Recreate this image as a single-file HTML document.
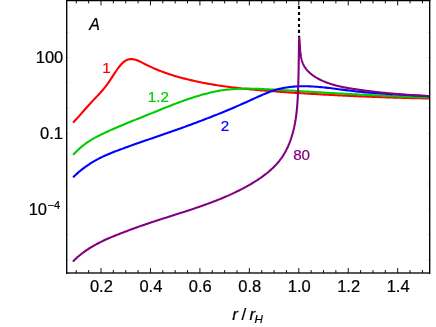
<!DOCTYPE html>
<html><head><meta charset="utf-8"><title>plot</title>
<style>
html,body{margin:0;padding:0;background:#fff;}
body{width:436px;height:327px;overflow:hidden;position:relative;font-family:"Liberation Sans",sans-serif;}
svg{position:absolute;left:0;top:0;display:block;will-change:transform;}
svg text{font-family:"Liberation Sans",sans-serif;}
</style></head><body>
<svg width="436" height="327" viewBox="0 0 436 327">
<defs><clipPath id="c"><rect x="66.70" y="0" width="363.00" height="272.95"/></clipPath></defs>
<rect x="66" y="272" width="364.4" height="2" fill="#575757" shape-rendering="crispEdges"/>
<path d="M76.28 272.95 v-2.90 M76.28 0.50 v2.90 M88.64 272.95 v-2.90 M88.64 0.50 v2.90 M101.00 272.95 v-4.90 M101.00 0.50 v4.90 M113.36 272.95 v-2.90 M113.36 0.50 v2.90 M125.73 272.95 v-2.90 M125.73 0.50 v2.90 M138.09 272.95 v-2.90 M138.09 0.50 v2.90 M150.45 272.95 v-4.90 M150.45 0.50 v4.90 M162.81 272.95 v-2.90 M162.81 0.50 v2.90 M175.18 272.95 v-2.90 M175.18 0.50 v2.90 M187.54 272.95 v-2.90 M187.54 0.50 v2.90 M199.90 272.95 v-4.90 M199.90 0.50 v4.90 M212.26 272.95 v-2.90 M212.26 0.50 v2.90 M224.63 272.95 v-2.90 M224.63 0.50 v2.90 M236.99 272.95 v-2.90 M236.99 0.50 v2.90 M249.35 272.95 v-4.90 M249.35 0.50 v4.90 M261.71 272.95 v-2.90 M261.71 0.50 v2.90 M274.08 272.95 v-2.90 M274.08 0.50 v2.90 M286.44 272.95 v-2.90 M286.44 0.50 v2.90 M298.80 272.95 v-4.90 M298.80 0.50 v4.90 M311.16 272.95 v-2.90 M311.16 0.50 v2.90 M323.53 272.95 v-2.90 M323.53 0.50 v2.90 M335.89 272.95 v-2.90 M335.89 0.50 v2.90 M348.25 272.95 v-4.90 M348.25 0.50 v4.90 M360.61 272.95 v-2.90 M360.61 0.50 v2.90 M372.98 272.95 v-2.90 M372.98 0.50 v2.90 M385.34 272.95 v-2.90 M385.34 0.50 v2.90 M397.70 272.95 v-4.90 M397.70 0.50 v4.90 M410.06 272.95 v-2.90 M410.06 0.50 v2.90 M422.43 272.95 v-2.90 M422.43 0.50 v2.90" stroke="#000" stroke-width="0.95" fill="none"/>
<path d="M66.70 259.90 h3.5 M429.70 259.90 h-3.5 M66.70 234.60 h3.5 M429.70 234.60 h-3.5 M66.70 209.30 h3.5 M429.70 209.30 h-3.5 M66.70 184.00 h3.5 M429.70 184.00 h-3.5 M66.70 158.70 h3.5 M429.70 158.70 h-3.5 M66.70 133.40 h3.5 M429.70 133.40 h-3.5 M66.70 108.10 h3.5 M429.70 108.10 h-3.5 M66.70 82.80 h3.5 M429.70 82.80 h-3.5 M66.70 57.50 h3.5 M429.70 57.50 h-3.5 M66.70 32.20 h3.5 M429.70 32.20 h-3.5 M66.70 6.90 h3.5 M429.70 6.90 h-3.5" stroke="#000" stroke-opacity="0.45" stroke-width="0.2" fill="none"/>
<g clip-path="url(#c)" fill="none" stroke-width="2.1" stroke-linecap="round" stroke-linejoin="round">
<path d="M73.70 121.90 L75.49 120.04 L77.28 118.10 L79.07 116.12 L80.86 114.09 L82.65 112.05 L84.44 110.00 L86.23 107.96 L88.02 105.94 L89.81 103.96 L91.59 102.03 L93.38 100.14 L95.17 98.26 L96.96 96.37 L98.75 94.46 L100.54 92.51 L102.33 90.49 L104.12 88.38 L105.91 86.12 L107.70 83.68 L109.49 81.07 L111.28 78.36 L113.07 75.61 L114.86 72.88 L116.65 70.25 L118.44 67.76 L120.23 65.49 L122.02 63.50 L123.80 61.86 L125.59 60.61 L127.38 59.76 L129.17 59.26 L130.96 59.07 L132.75 59.16 L134.54 59.49 L136.33 60.01 L138.12 60.70 L139.91 61.50 L141.70 62.38 L143.49 63.31 L145.28 64.24 L147.07 65.14 L148.86 66.01 L150.65 66.85 L152.44 67.67 L154.23 68.46 L156.01 69.22 L157.80 69.96 L159.59 70.68 L161.38 71.37 L163.17 72.04 L164.96 72.69 L166.75 73.32 L168.54 73.92 L170.33 74.51 L172.12 75.08 L173.91 75.63 L175.70 76.17 L177.49 76.69 L179.28 77.19 L181.07 77.68 L182.86 78.16 L184.65 78.62 L186.44 79.07 L188.22 79.52 L190.01 79.95 L191.80 80.36 L193.59 80.77 L195.38 81.17 L197.17 81.56 L198.96 81.94 L200.75 82.30 L202.54 82.66 L204.33 83.01 L206.12 83.35 L207.91 83.68 L209.70 84.00 L211.49 84.31 L213.28 84.61 L215.07 84.91 L216.86 85.20 L218.65 85.47 L220.43 85.75 L222.22 86.01 L224.01 86.27 L225.80 86.52 L227.59 86.76 L229.38 86.99 L231.17 87.22 L232.96 87.45 L234.75 87.66 L236.54 87.88 L238.33 88.08 L240.12 88.28 L241.91 88.48 L243.70 88.67 L245.49 88.85 L247.28 89.03 L249.07 89.21 L250.86 89.38 L252.64 89.55 L254.43 89.71 L256.22 89.87 L258.01 90.03 L259.80 90.18 L261.59 90.33 L263.38 90.48 L265.17 90.62 L266.96 90.76 L268.75 90.91 L270.54 91.04 L272.33 91.18 L274.12 91.31 L275.91 91.45 L277.70 91.58 L279.49 91.71 L281.28 91.84 L283.07 91.97 L284.85 92.10 L286.64 92.22 L288.43 92.35 L290.22 92.47 L292.01 92.59 L293.80 92.71 L295.59 92.83 L297.38 92.95 L299.17 93.07 L300.96 93.18 L302.75 93.30 L304.54 93.41 L306.33 93.52 L308.12 93.63 L309.91 93.74 L311.70 93.85 L313.49 93.96 L315.28 94.06 L317.06 94.17 L318.85 94.27 L320.64 94.38 L322.43 94.48 L324.22 94.58 L326.01 94.67 L327.80 94.77 L329.59 94.87 L331.38 94.96 L333.17 95.06 L334.96 95.15 L336.75 95.24 L338.54 95.33 L340.33 95.42 L342.12 95.51 L343.91 95.60 L345.70 95.68 L347.49 95.77 L349.27 95.85 L351.06 95.93 L352.85 96.02 L354.64 96.10 L356.43 96.17 L358.22 96.25 L360.01 96.33 L361.80 96.40 L363.59 96.48 L365.38 96.55 L367.17 96.63 L368.96 96.70 L370.75 96.77 L372.54 96.84 L374.33 96.90 L376.12 96.97 L377.91 97.04 L379.70 97.10 L381.48 97.16 L383.27 97.23 L385.06 97.29 L386.85 97.35 L388.64 97.41 L390.43 97.47 L392.22 97.52 L394.01 97.58 L395.80 97.64 L397.59 97.69 L399.38 97.74 L401.17 97.79 L402.96 97.85 L404.75 97.90 L406.54 97.95 L408.33 97.99 L410.12 98.04 L411.91 98.09 L413.69 98.13 L415.48 98.17 L417.27 98.22 L419.06 98.26 L420.85 98.30 L422.64 98.34 L424.43 98.38 L426.22 98.42 L428.01 98.46 L429.80 98.49" stroke="#ff0000"/>
<path d="M73.70 154.33 L75.49 152.40 L77.28 150.59 L79.07 148.91 L80.86 147.34 L82.65 145.88 L84.44 144.50 L86.23 143.21 L88.02 141.99 L89.81 140.83 L91.59 139.73 L93.38 138.67 L95.17 137.65 L96.96 136.68 L98.75 135.74 L100.54 134.83 L102.33 133.96 L104.12 133.10 L105.91 132.27 L107.70 131.45 L109.49 130.65 L111.28 129.86 L113.07 129.07 L114.86 128.30 L116.65 127.53 L118.44 126.76 L120.23 126.00 L122.02 125.25 L123.80 124.51 L125.59 123.76 L127.38 123.03 L129.17 122.29 L130.96 121.56 L132.75 120.83 L134.54 120.11 L136.33 119.38 L138.12 118.66 L139.91 117.94 L141.70 117.22 L143.49 116.50 L145.28 115.78 L147.07 115.06 L148.86 114.34 L150.65 113.62 L152.44 112.90 L154.23 112.17 L156.01 111.45 L157.80 110.72 L159.59 110.00 L161.38 109.28 L163.17 108.56 L164.96 107.84 L166.75 107.13 L168.54 106.42 L170.33 105.71 L172.12 105.01 L173.91 104.32 L175.70 103.64 L177.49 102.96 L179.28 102.29 L181.07 101.63 L182.86 100.98 L184.65 100.33 L186.44 99.70 L188.22 99.08 L190.01 98.47 L191.80 97.88 L193.59 97.30 L195.38 96.73 L197.17 96.18 L198.96 95.64 L200.75 95.11 L202.54 94.61 L204.33 94.12 L206.12 93.65 L207.91 93.20 L209.70 92.76 L211.49 92.35 L213.28 91.95 L215.07 91.58 L216.86 91.23 L218.65 90.90 L220.43 90.59 L222.22 90.31 L224.01 90.05 L225.80 89.82 L227.59 89.61 L229.38 89.43 L231.17 89.26 L232.96 89.12 L234.75 89.00 L236.54 88.90 L238.33 88.82 L240.12 88.76 L241.91 88.71 L243.70 88.68 L245.49 88.66 L247.28 88.66 L249.07 88.67 L250.86 88.69 L252.64 88.73 L254.43 88.77 L256.22 88.82 L258.01 88.88 L259.80 88.95 L261.59 89.02 L263.38 89.10 L265.17 89.18 L266.96 89.26 L268.75 89.35 L270.54 89.44 L272.33 89.53 L274.12 89.63 L275.91 89.72 L277.70 89.82 L279.49 89.92 L281.28 90.02 L283.07 90.13 L284.85 90.23 L286.64 90.34 L288.43 90.45 L290.22 90.56 L292.01 90.67 L293.80 90.78 L295.59 90.89 L297.38 91.00 L299.17 91.11 L300.96 91.22 L302.75 91.33 L304.54 91.44 L306.33 91.55 L308.12 91.66 L309.91 91.77 L311.70 91.88 L313.49 91.99 L315.28 92.09 L317.06 92.20 L318.85 92.31 L320.64 92.41 L322.43 92.52 L324.22 92.62 L326.01 92.73 L327.80 92.83 L329.59 92.93 L331.38 93.04 L333.17 93.14 L334.96 93.24 L336.75 93.34 L338.54 93.44 L340.33 93.54 L342.12 93.64 L343.91 93.74 L345.70 93.84 L347.49 93.93 L349.27 94.03 L351.06 94.13 L352.85 94.22 L354.64 94.32 L356.43 94.41 L358.22 94.50 L360.01 94.60 L361.80 94.69 L363.59 94.78 L365.38 94.87 L367.17 94.96 L368.96 95.05 L370.75 95.14 L372.54 95.23 L374.33 95.31 L376.12 95.40 L377.91 95.48 L379.70 95.57 L381.48 95.65 L383.27 95.74 L385.06 95.82 L386.85 95.90 L388.64 95.98 L390.43 96.06 L392.22 96.14 L394.01 96.22 L395.80 96.30 L397.59 96.38 L399.38 96.45 L401.17 96.53 L402.96 96.60 L404.75 96.68 L406.54 96.75 L408.33 96.82 L410.12 96.89 L411.91 96.97 L413.69 97.04 L415.48 97.10 L417.27 97.17 L419.06 97.24 L420.85 97.31 L422.64 97.37 L424.43 97.44 L426.22 97.50 L428.01 97.56 L429.80 97.62" stroke="#00cc00"/>
<path d="M73.70 176.67 L75.49 174.97 L77.28 173.35 L79.07 171.80 L80.86 170.32 L82.65 168.90 L84.44 167.55 L86.23 166.26 L88.02 165.03 L89.81 163.85 L91.59 162.72 L93.38 161.64 L95.17 160.61 L96.96 159.63 L98.75 158.68 L100.54 157.77 L102.33 156.90 L104.12 156.06 L105.91 155.25 L107.70 154.47 L109.49 153.71 L111.28 152.98 L113.07 152.26 L114.86 151.56 L116.65 150.87 L118.44 150.20 L120.23 149.53 L122.02 148.86 L123.80 148.21 L125.59 147.55 L127.38 146.90 L129.17 146.26 L130.96 145.62 L132.75 144.98 L134.54 144.35 L136.33 143.72 L138.12 143.09 L139.91 142.47 L141.70 141.84 L143.49 141.22 L145.28 140.61 L147.07 139.99 L148.86 139.37 L150.65 138.76 L152.44 138.14 L154.23 137.53 L156.01 136.91 L157.80 136.30 L159.59 135.68 L161.38 135.07 L163.17 134.45 L164.96 133.83 L166.75 133.21 L168.54 132.59 L170.33 131.96 L172.12 131.34 L173.91 130.71 L175.70 130.07 L177.49 129.44 L179.28 128.80 L181.07 128.16 L182.86 127.52 L184.65 126.87 L186.44 126.22 L188.22 125.57 L190.01 124.91 L191.80 124.25 L193.59 123.59 L195.38 122.92 L197.17 122.25 L198.96 121.57 L200.75 120.89 L202.54 120.21 L204.33 119.53 L206.12 118.84 L207.91 118.14 L209.70 117.44 L211.49 116.74 L213.28 116.03 L215.07 115.32 L216.86 114.61 L218.65 113.89 L220.43 113.16 L222.22 112.43 L224.01 111.70 L225.80 110.96 L227.59 110.21 L229.38 109.46 L231.17 108.71 L232.96 107.95 L234.75 107.18 L236.54 106.41 L238.33 105.64 L240.12 104.85 L241.91 104.07 L243.70 103.27 L245.49 102.47 L247.28 101.67 L249.07 100.86 L250.86 100.04 L252.64 99.22 L254.43 98.40 L256.22 97.58 L258.01 96.77 L259.80 95.97 L261.59 95.18 L263.38 94.41 L265.17 93.66 L266.96 92.94 L268.75 92.24 L270.54 91.58 L272.33 90.96 L274.12 90.37 L275.91 89.83 L277.70 89.33 L279.49 88.88 L281.28 88.46 L283.07 88.09 L284.85 87.76 L286.64 87.46 L288.43 87.20 L290.22 86.98 L292.01 86.79 L293.80 86.63 L295.59 86.50 L297.38 86.40 L299.17 86.32 L300.96 86.28 L302.75 86.25 L304.54 86.25 L306.33 86.28 L308.12 86.32 L309.91 86.38 L311.70 86.46 L313.49 86.56 L315.28 86.68 L317.06 86.81 L318.85 86.95 L320.64 87.11 L322.43 87.28 L324.22 87.46 L326.01 87.65 L327.80 87.86 L329.59 88.06 L331.38 88.28 L333.17 88.50 L334.96 88.73 L336.75 88.96 L338.54 89.19 L340.33 89.42 L342.12 89.66 L343.91 89.89 L345.70 90.13 L347.49 90.36 L349.27 90.58 L351.06 90.80 L352.85 91.02 L354.64 91.23 L356.43 91.43 L358.22 91.62 L360.01 91.81 L361.80 91.99 L363.59 92.16 L365.38 92.33 L367.17 92.48 L368.96 92.64 L370.75 92.78 L372.54 92.92 L374.33 93.06 L376.12 93.19 L377.91 93.32 L379.70 93.44 L381.48 93.56 L383.27 93.67 L385.06 93.79 L386.85 93.89 L388.64 94.00 L390.43 94.10 L392.22 94.20 L394.01 94.30 L395.80 94.40 L397.59 94.49 L399.38 94.59 L401.17 94.68 L402.96 94.78 L404.75 94.87 L406.54 94.97 L408.33 95.06 L410.12 95.16 L411.91 95.25 L413.69 95.35 L415.48 95.45 L417.27 95.55 L419.06 95.65 L420.85 95.76 L422.64 95.87 L424.43 95.98 L426.22 96.10 L428.01 96.22 L429.80 96.34" stroke="#0000ff"/>
<path d="M73.53 260.94 L74.39 260.08 L75.26 259.23 L76.14 258.40 L77.04 257.59 L77.94 256.79 L78.85 256.00 L79.78 255.23 L80.71 254.47 L81.65 253.73 L82.60 253.00 L83.56 252.28 L84.53 251.58 L85.51 250.89 L86.49 250.21 L87.49 249.55 L88.49 248.89 L89.50 248.25 L90.51 247.62 L91.54 247.00 L92.56 246.39 L93.60 245.79 L94.64 245.20 L95.69 244.62 L96.74 244.05 L97.80 243.49 L98.87 242.94 L99.94 242.40 L101.01 241.86 L102.09 241.34 L103.18 240.82 L104.26 240.30 L105.35 239.80 L106.45 239.30 L107.55 238.81 L108.65 238.32 L109.76 237.84 L110.86 237.37 L111.97 236.90 L113.09 236.43 L114.20 235.97 L115.32 235.52 L116.44 235.07 L117.55 234.62 L118.68 234.18 L119.80 233.73 L120.92 233.30 L122.04 232.86 L123.16 232.43 L124.29 232.00 L125.41 231.57 L126.54 231.15 L127.66 230.72 L128.79 230.31 L129.91 229.89 L131.04 229.47 L132.17 229.06 L133.30 228.65 L134.43 228.24 L135.56 227.84 L136.69 227.43 L137.82 227.03 L138.95 226.63 L140.08 226.23 L141.21 225.84 L142.35 225.44 L143.48 225.05 L144.62 224.66 L145.75 224.27 L146.89 223.88 L148.02 223.50 L149.16 223.12 L150.30 222.73 L151.43 222.35 L152.57 221.97 L153.71 221.59 L154.85 221.22 L155.99 220.84 L157.13 220.47 L158.28 220.10 L159.42 219.72 L160.56 219.35 L161.71 218.98 L162.85 218.61 L164.00 218.25 L165.14 217.88 L166.29 217.51 L167.43 217.15 L168.58 216.78 L169.73 216.41 L170.87 216.05 L172.02 215.68 L173.17 215.32 L174.32 214.95 L175.46 214.59 L176.61 214.22 L177.76 213.86 L178.91 213.49 L180.05 213.12 L181.20 212.75 L182.35 212.39 L183.49 212.02 L184.64 211.65 L185.79 211.27 L186.93 210.90 L188.08 210.53 L189.22 210.15 L190.37 209.77 L191.51 209.40 L192.65 209.02 L193.80 208.63 L194.94 208.25 L196.08 207.86 L197.22 207.48 L198.36 207.09 L199.50 206.69 L200.63 206.30 L201.77 205.90 L202.91 205.50 L204.04 205.10 L205.17 204.69 L206.31 204.29 L207.44 203.87 L208.57 203.46 L209.69 203.04 L210.82 202.62 L211.95 202.20 L213.07 201.77 L214.19 201.34 L215.32 200.91 L216.43 200.47 L217.55 200.03 L218.67 199.58 L219.78 199.13 L220.90 198.67 L222.01 198.22 L223.12 197.75 L224.23 197.29 L225.33 196.81 L226.43 196.34 L227.54 195.86 L228.64 195.37 L229.73 194.88 L230.83 194.38 L231.92 193.88 L233.01 193.37 L234.10 192.86 L235.19 192.34 L236.27 191.82 L237.35 191.29 L238.43 190.76 L239.51 190.22 L240.58 189.67 L241.65 189.12 L242.72 188.56 L243.79 188.00 L244.85 187.42 L245.91 186.85 L246.97 186.26 L248.02 185.67 L249.07 185.07 L250.12 184.47 L251.17 183.86 L252.21 183.24 L253.25 182.62 L254.28 181.98 L255.31 181.34 L256.33 180.69 L257.35 180.03 L258.36 179.37 L259.37 178.70 L260.37 178.01 L261.36 177.32 L262.34 176.62 L263.31 175.91 L264.28 175.19 L265.24 174.46 L266.19 173.72 L267.12 172.97 L268.05 172.21 L268.96 171.44 L269.87 170.66 L270.76 169.87 L271.64 169.07 L272.51 168.26 L273.37 167.43 L274.21 166.59 L275.03 165.74 L275.85 164.88 L276.65 164.01 L277.43 163.12 L278.20 162.23 L278.95 161.31 L279.68 160.39 L280.40 159.45 L281.10 158.50 L281.78 157.54 L282.45 156.56 L283.09 155.57 L283.72 154.56 L284.33 153.54 L284.92 152.52 L285.50 151.47 L286.06 150.42 L286.60 149.36 L287.13 148.29 L287.64 147.20 L288.13 146.11 L288.61 145.01 L289.07 143.90 L289.52 142.78 L289.95 141.66 L290.37 140.53 L290.77 139.39 L291.16 138.24 L291.53 137.09 L291.89 135.93 L292.24 134.77 L292.57 133.61 L292.89 132.44 L293.20 131.27 L293.50 130.09 L293.78 128.91 L294.05 127.73 L294.30 126.55 L294.55 125.36 L294.79 124.18 L295.01 122.99 L295.22 121.80 L295.43 120.60 L295.62 119.41 L295.80 118.21 L295.98 117.02 L296.14 115.82 L296.30 114.62 L296.44 113.41 L296.58 112.21 L296.71 111.01 L296.84 109.80 L296.96 108.60 L297.07 107.39 L297.17 106.19 L297.27 104.98 L297.36 103.77 L297.44 102.56 L297.52 101.36 L297.60 100.15 L297.67 98.94 L297.73 97.73 L297.79 96.52 L297.85 95.32 L297.91 94.11 L297.96 92.90 L298.01 91.70 L298.05 90.49 L298.10 89.29 L298.14 88.08 L298.18 86.88 L298.22 85.68 L298.25 84.48 L298.29 83.28 L298.32 82.08 L298.36 80.88 L298.39 79.68 L298.42 78.49 L298.45 77.29 L298.47 76.10 L298.50 74.90 L298.53 73.70 L298.55 72.51 L298.58 71.32 L298.60 70.12 L298.62 68.93 L298.65 67.73 L298.67 66.54 L298.69 65.34 L298.71 64.15 L298.73 62.95 L298.75 61.76 L298.77 60.56 L298.79 59.37 L298.81 58.17 L298.82 56.98 L298.84 55.78 L298.86 54.58 L298.88 53.38 L298.90 52.18 L298.91 50.98 L298.93 49.78 L298.95 48.58 L298.97 47.38 L298.99 46.17 L299.01 44.97 L299.03 43.76 L299.05 42.55 L299.07 41.35 L299.09 40.14 L299.11 38.92 L299.14 37.71 L299.15 36.60 L299.22 37.04 L299.27 37.55 L299.32 38.07 L299.37 38.59 L299.41 39.11 L299.45 39.64 L299.49 40.17 L299.53 40.70 L299.56 41.24 L299.60 41.78 L299.63 42.33 L299.66 42.87 L299.70 43.42 L299.73 43.98 L299.76 44.53 L299.79 45.08 L299.82 45.64 L299.86 46.20 L299.89 46.76 L299.93 47.32 L299.97 47.88 L300.01 48.44 L300.05 49.01 L300.09 49.57 L300.14 50.13 L300.19 50.69 L300.25 51.26 L300.30 51.82 L300.36 52.38 L300.43 52.94 L300.50 53.49 L300.57 54.05 L300.65 54.60 L300.73 55.16 L300.82 55.71 L300.91 56.25 L301.01 56.80 L301.12 57.34 L301.23 57.88 L301.35 58.42 L301.48 58.95 L301.61 59.48 L301.75 60.00 L301.90 60.53 L302.06 61.04 L302.22 61.56 L302.40 62.06 L302.58 62.57 L302.77 63.06 L302.97 63.56 L303.18 64.04 L303.40 64.53 L303.63 65.00 L303.87 65.47 L304.12 65.93 L304.38 66.39 L304.65 66.84 L304.93 67.28 L305.22 67.72 L305.52 68.15 L305.83 68.58 L306.15 69.00 L306.48 69.41 L306.82 69.82 L307.16 70.22 L307.52 70.61 L307.88 71.00 L308.25 71.38 L308.63 71.76 L309.01 72.13 L309.40 72.50 L309.80 72.86 L310.21 73.22 L310.62 73.57 L311.04 73.91 L311.46 74.25 L311.89 74.58 L312.32 74.91 L312.76 75.24 L313.21 75.55 L313.66 75.87 L314.11 76.17 L314.57 76.48 L315.03 76.77 L315.50 77.07 L315.97 77.36 L316.44 77.64 L316.92 77.92 L317.40 78.19 L317.88 78.46 L318.37 78.72 L318.86 78.98 L319.34 79.24 L319.84 79.49 L320.33 79.74 L320.82 79.98 L321.32 80.22 L321.82 80.45 L322.31 80.68 L322.81 80.91 L323.31 81.13 L323.82 81.35 L324.32 81.56 L324.83 81.77 L325.33 81.97 L325.84 82.18 L326.35 82.37 L326.86 82.57 L327.37 82.76 L327.88 82.95 L328.39 83.13 L328.91 83.31 L329.42 83.49 L329.94 83.66 L330.45 83.83 L330.97 84.00 L331.49 84.17 L332.01 84.33 L332.53 84.48 L333.06 84.64 L333.58 84.79 L334.10 84.94 L334.63 85.09 L335.15 85.23 L335.68 85.37 L336.20 85.51 L336.73 85.65 L337.26 85.78 L337.79 85.91 L338.32 86.04 L338.85 86.17 L339.38 86.29 L339.91 86.41 L340.44 86.53 L340.98 86.65 L341.51 86.76 L342.05 86.88 L342.58 86.99 L343.11 87.10 L343.65 87.21 L344.19 87.31 L344.72 87.42 L345.26 87.52 L345.80 87.62 L346.33 87.72 L346.87 87.82 L347.41 87.91 L347.95 88.01 L348.49 88.10 L349.03 88.19 L349.57 88.28 L350.11 88.38 L350.64 88.46 L351.18 88.55 L351.72 88.64 L352.26 88.73 L352.80 88.81 L353.35 88.90 L353.89 88.98 L354.43 89.06 L354.97 89.14 L355.51 89.23 L356.05 89.31 L356.59 89.39 L357.13 89.47 L357.67 89.55 L358.21 89.63 L358.75 89.71 L359.29 89.78 L359.83 89.86 L360.37 89.94 L360.91 90.01 L361.45 90.09 L361.99 90.16 L362.53 90.24 L363.07 90.31 L363.61 90.39 L364.15 90.46 L364.69 90.53 L365.23 90.60 L365.77 90.68 L366.31 90.75 L366.85 90.82 L367.39 90.89 L367.94 90.96 L368.48 91.03 L369.02 91.09 L369.56 91.16 L370.10 91.23 L370.64 91.30 L371.18 91.36 L371.72 91.43 L372.26 91.49 L372.80 91.56 L373.34 91.62 L373.88 91.69 L374.42 91.75 L374.96 91.81 L375.50 91.88 L376.04 91.94 L376.58 92.00 L377.12 92.06 L377.67 92.12 L378.21 92.18 L378.75 92.24 L379.29 92.30 L379.83 92.36 L380.37 92.42 L380.91 92.48 L381.45 92.53 L381.99 92.59 L382.53 92.65 L383.07 92.70 L383.62 92.76 L384.16 92.81 L384.70 92.87 L385.24 92.92 L385.78 92.98 L386.32 93.03 L386.86 93.08 L387.40 93.14 L387.94 93.19 L388.49 93.24 L389.03 93.29 L389.57 93.34 L390.11 93.39 L390.65 93.44 L391.19 93.49 L391.74 93.54 L392.28 93.59 L392.82 93.64 L393.36 93.69 L393.90 93.74 L394.44 93.78 L394.99 93.83 L395.53 93.88 L396.07 93.92 L396.61 93.97 L397.15 94.01 L397.70 94.06 L398.24 94.10 L398.78 94.15 L399.32 94.19 L399.87 94.23 L400.41 94.28 L400.95 94.32 L401.49 94.36 L402.04 94.40 L402.58 94.44 L403.12 94.49 L403.66 94.53 L404.21 94.57 L404.75 94.61 L405.29 94.65 L405.84 94.69 L406.38 94.72 L406.92 94.76 L407.47 94.80 L408.01 94.84 L408.55 94.88 L409.10 94.91 L409.64 94.95 L410.18 94.99 L410.73 95.02 L411.27 95.06 L411.82 95.10 L412.36 95.13 L412.90 95.17 L413.45 95.20 L413.99 95.24 L414.54 95.27 L415.08 95.30 L415.62 95.34 L416.17 95.37 L416.71 95.40 L417.26 95.44 L417.80 95.47 L418.35 95.50 L418.89 95.53 L419.44 95.56 L419.98 95.59 L420.53 95.62 L421.07 95.65 L421.62 95.69 L422.16 95.72 L422.71 95.74 L423.26 95.77 L423.80 95.80 L424.35 95.83 L424.89 95.86 L425.44 95.89 L425.98 95.92 L426.53 95.94 L427.08 95.97 L427.62 96.00 L428.17 96.03 L428.72 96.05 L429.26 96.08 L429.81 96.11" stroke="#800080" stroke-linejoin="bevel"/>
</g>
<path d="M299 6.0 V8.9 M299 11.9 V14.9 M299 17.9 V20.9 M299 23.9 V27.0 M299 29.8 V33.0 M299 35.8 V37.0" stroke="#000" stroke-width="2.1" fill="none"/>
<path d="M66.70 0 V274.00 M429.70 0 V274.00" stroke="#000" stroke-width="1.35" fill="none"/>
<path d="M66.10 0.50 H430.30" stroke="#000" stroke-width="1.3" fill="none"/>
<text x="101.40" y="292.30" text-anchor="middle" font-size="16.50" fill="#000" stroke="#000" stroke-width="0.22" >0.2</text>
<text x="150.85" y="292.30" text-anchor="middle" font-size="16.50" fill="#000" stroke="#000" stroke-width="0.22" >0.4</text>
<text x="200.30" y="292.30" text-anchor="middle" font-size="16.50" fill="#000" stroke="#000" stroke-width="0.22" >0.6</text>
<text x="249.75" y="292.30" text-anchor="middle" font-size="16.50" fill="#000" stroke="#000" stroke-width="0.22" >0.8</text>
<text x="299.20" y="292.30" text-anchor="middle" font-size="16.50" fill="#000" stroke="#000" stroke-width="0.22" >1.0</text>
<text x="348.65" y="292.30" text-anchor="middle" font-size="16.50" fill="#000" stroke="#000" stroke-width="0.22" >1.2</text>
<text x="398.10" y="292.30" text-anchor="middle" font-size="16.50" fill="#000" stroke="#000" stroke-width="0.22" >1.4</text>
<text x="63.30" y="62.70" text-anchor="end" font-size="16.50" fill="#000" stroke="#000" stroke-width="0.22" >100</text>
<text x="63.00" y="138.60" text-anchor="end" font-size="16.50" fill="#000" stroke="#000" stroke-width="0.22" >0.1</text>
<text x="47.00" y="215.10" text-anchor="end" font-size="16.50" fill="#000" stroke="#000" stroke-width="0.22" >10</text>
<text x="47.70" y="209.10" text-anchor="start" font-size="11.00" fill="#000" stroke="#000" stroke-width="0.22" >−4</text>
<text x="94.50" y="29.80" text-anchor="middle" font-size="16.00" fill="#000" stroke="#000" stroke-width="0.22" font-style="italic">A</text>
<text x="106.50" y="72.50" text-anchor="middle" font-size="15.20" fill="#ff0000" stroke="#ff0000" stroke-width="0.22" >1</text>
<text x="158.30" y="101.90" text-anchor="middle" font-size="15.20" fill="#00cc00" stroke="#00cc00" stroke-width="0.22" >1.2</text>
<text x="224.90" y="130.70" text-anchor="middle" font-size="15.20" fill="#0000ff" stroke="#0000ff" stroke-width="0.22" >2</text>
<text x="301.60" y="159.80" text-anchor="middle" font-size="15.20" fill="#800080" stroke="#800080" stroke-width="0.22" >80</text>
<text y="320.3" font-size="17" stroke="#000" stroke-width="0.22"><tspan x="232.2" font-style="italic">r</tspan><tspan x="241.55">/</tspan><tspan x="249.4" font-style="italic">r</tspan><tspan x="254.6" y="323.4" font-size="11.6" font-style="italic">H</tspan></text>
</svg>
</body></html>
